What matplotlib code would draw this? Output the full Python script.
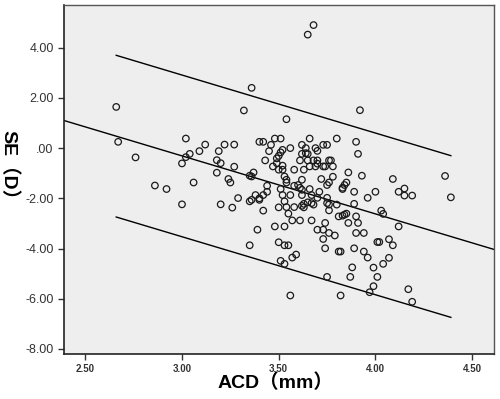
import numpy as np
import matplotlib
matplotlib.use("Agg")
import matplotlib.pyplot as plt
from matplotlib.ticker import FuncFormatter

# ACD (mm) 和 SE (D) 散点数据
acd = [
    2.66, 2.67, 2.76, 2.86, 2.92, 3.00, 3.32, 3.02, 3.12, 3.22,
    3.27, 3.09, 3.19, 3.04, 3.02, 3.18, 3.20, 3.00, 3.27, 3.18,
    3.35, 3.24, 3.25, 3.06, 3.29, 3.20, 3.26, 3.35, 3.35, 3.36,
    3.65, 3.68, 3.92, 3.54, 4.36, 4.39,
    3.40, 3.42, 3.48, 3.51, 3.46, 3.66, 3.80, 3.90, 3.62, 3.56,
    3.73, 3.75, 3.64, 3.69, 3.52, 3.51, 3.45, 3.62, 3.64, 3.65,
    3.70, 3.91, 3.50, 3.49, 3.43, 3.61, 3.65, 3.68, 3.70, 3.76,
    3.77, 3.49, 3.70, 3.47, 3.52, 3.66, 3.69, 3.73, 3.74, 3.78,
    3.50, 3.52, 3.58, 3.63, 3.86, 3.93, 3.37, 3.36, 3.53, 3.72,
    3.78, 3.54, 3.54, 3.62, 3.60, 3.85, 3.75, 3.76, 3.44, 3.51,
    3.58, 3.66, 3.71, 3.84, 3.83, 3.83, 3.89, 3.61, 3.62, 3.38,
    3.42, 3.44, 3.40, 3.52, 3.56, 3.62, 3.67, 3.70, 3.75, 3.96,
    3.36, 3.40, 3.42, 3.50, 3.54, 3.53, 3.58, 3.62, 3.63, 3.65,
    3.67, 3.68, 3.75, 3.76, 3.80, 3.89, 3.76, 3.63, 3.55, 3.57,
    3.61, 3.67, 3.74, 3.81, 3.83, 3.84, 3.85, 3.86, 3.90, 3.91,
    3.48, 3.53, 3.39, 3.70, 3.73, 3.76, 3.79, 3.90, 3.94, 3.73,
    3.50, 3.53, 3.55, 3.74, 3.81, 3.82, 3.89, 3.94, 3.57, 3.59,
    3.96, 3.51, 3.53, 3.88, 3.75, 3.87, 3.56, 3.82, 3.97,
    4.03, 4.04, 4.12, 4.01, 4.02, 4.07, 4.09, 4.07, 4.04, 3.99,
    4.01, 3.99, 4.17, 4.19, 4.09, 4.00, 4.12, 4.15, 4.15, 4.19,
]
se = [
    1.64, 0.25, -0.37, -1.49, -1.63, -2.24, 1.50, 0.38, 0.14, 0.14,
    0.14, -0.12, -0.12, -0.23, -0.36, -0.48, -0.60, -0.61, -0.74, -0.98,
    -1.10, -1.23, -1.37, -1.37, -1.99, -2.24, -2.37, -2.12, -3.87, 2.40,
    4.52, 4.90, 1.51, 1.15, -1.11, -1.96,
    0.25, 0.25, 0.38, 0.38, 0.13, 0.38, 0.38, 0.25, 0.13, 0.00,
    0.13, 0.13, 0.00, 0.00, -0.07, -0.17, -0.12, -0.23, -0.20, -0.23,
    -0.11, -0.23, -0.31, -0.41, -0.49, -0.49, -0.49, -0.49, -0.49, -0.49,
    -0.49, -0.60, -0.62, -0.73, -0.70, -0.73, -0.73, -0.73, -0.73, -0.73,
    -0.86, -0.86, -0.86, -0.86, -0.97, -1.10, -0.97, -1.13, -1.13, -1.23,
    -1.14, -1.26, -1.37, -1.26, -1.47, -1.37, -1.47, -1.37, -1.50, -1.63,
    -1.50, -1.63, -1.74, -1.47, -1.58, -1.63, -1.74, -1.58, -1.66, -1.87,
    -1.87, -1.74, -2.00, -1.87, -1.87, -1.87, -1.87, -1.98, -1.98, -1.98,
    -2.06, -2.06, -2.49, -2.36, -2.35, -2.12, -2.35, -2.30, -2.22, -2.16,
    -2.19, -2.25, -2.19, -2.25, -2.25, -2.22, -2.48, -2.36, -2.61, -2.88,
    -2.88, -2.88, -2.98, -2.72, -2.69, -2.65, -2.61, -2.98, -2.72, -2.98,
    -3.12, -3.12, -3.25, -3.25, -3.25, -3.38, -3.48, -3.38, -3.38, -3.62,
    -3.75, -3.87, -3.87, -3.99, -4.12, -4.12, -3.99, -4.12, -4.36, -4.24,
    -4.36, -4.49, -4.61, -4.75, -5.13, -5.13, -5.87, -5.87, -5.74,
    -2.49, -2.62, -3.12, -3.74, -3.74, -3.63, -3.87, -4.37, -4.61, -4.76,
    -5.13, -5.50, -5.62, -6.12, -1.23, -1.74, -1.74, -1.61, -1.89, -1.89,
]

# 拟合线参数（估读）：SE = 截距 + 斜率 * ACD，预测区间半宽
fit_intercept = 6.62
fit_slope = -2.31
pi_half = 3.22

x_ticks = [2.50, 3.00, 3.50, 4.00, 4.50]
y_ticks = [4.00, 2.00, 0.00, -2.00, -4.00, -6.00, -8.00]

plt.rcParams["font.family"] = ["Liberation Sans", "Noto Sans CJK SC"]
plt.rcParams["axes.unicode_minus"] = False

fig = plt.figure(figsize=(5.0, 3.99), dpi=100)
ax = fig.add_axes([0.128, 0.1128, 0.86, 0.8747])
ax.set_facecolor("#eeeeee")

ax.set_xlim(2.39, 4.613)
ax.set_ylim(-8.2, 5.7)

# 总体拟合线（贯穿整个坐标区）
xl = np.array(ax.get_xlim())
ax.plot(xl, fit_intercept + fit_slope * xl, color="black", lw=1.0)

# 预测区间线（数据范围内）
xr = np.array([min(acd), max(acd)])
ax.plot(xr, fit_intercept + fit_slope * xr + pi_half, color="black", lw=1.0)
ax.plot(xr, fit_intercept + fit_slope * xr - pi_half, color="black", lw=1.0)

ax.scatter(acd, se, s=22, facecolors="none", edgecolors="#1a1a1a",
           linewidths=0.9, zorder=3)


def fmt(v, pos):
    s = f"{v:.2f}"
    if s.startswith("0."):
        s = s[1:]
    if s == "-0.00":
        s = ".00"
    return s


ax.set_xticks(x_ticks)
ax.set_yticks(y_ticks)
ax.xaxis.set_major_formatter(FuncFormatter(fmt))
ax.yaxis.set_major_formatter(FuncFormatter(fmt))
ax.tick_params(axis="y", labelsize=9, length=4, width=1, colors="#333333",
               labelcolor="#333333")
ax.tick_params(axis="x", labelsize=7, length=4, width=1, colors="#333333",
               labelcolor="#333333")
for lab in ax.get_xticklabels():
    lab.set_fontweight("bold")

for side in ["left", "bottom"]:
    ax.spines[side].set_color("#222222")
    ax.spines[side].set_linewidth(1.2)
for side in ["top", "right"]:
    ax.spines[side].set_color("#555555")
    ax.spines[side].set_linewidth(1.0)

fig.text(0.55, 0.04, "ACD（mm）", ha="center", va="center",
         fontsize=14, fontweight="bold")
fig.text(0.017, 0.575, "SE（D）", ha="center", va="center",
         rotation=270, fontsize=14, fontweight="bold")

fig.savefig("out.png", dpi=100)
